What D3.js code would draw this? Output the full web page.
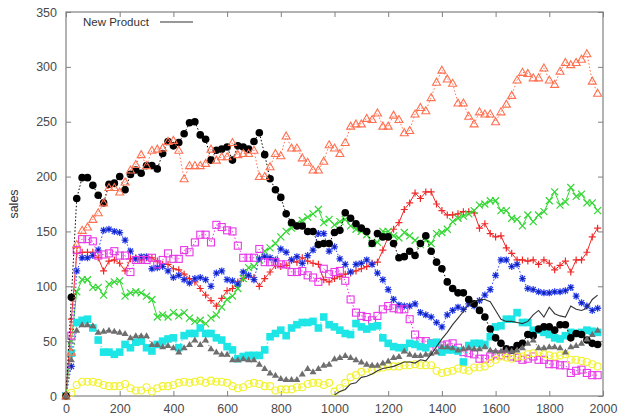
<!DOCTYPE html>
<html><head><meta charset="utf-8">
<script src="https://cdn.jsdelivr.net/npm/d3@7/dist/d3.min.js"></script>
<style>body{margin:0;background:#fff}svg{display:block}</style>
</head><body><svg id="c" width="627" height="420"></svg>
<script>
// x positions (sales sampled every 20 days)
const steps = d3.range(0, 2000, 20);
const xTicks = [0,200,400,600,800,1000,1200,1400,1600,1800,2000];
const yTicks = [0,50,100,150,200,250,300,350];

const redPlus = [0,70,130,131,131,131,126,114,123,124,121,114,125,126,124,126,126,123,120,120,116,115,111,107,104,98,92,87,82,89,96,98,104,107,109,108,100,107,113,119,118,119,124,122,126,123,121,120,106,104,107,109,111,112,114,116,118,121,122,133,145,152,158,170,176,185,180,186,186,175,169,165,165,166,168,168,167,153,157,148,145,146,135,130,124,124,123,124,120,124,121,115,119,123,113,124,124,131,145,153];
const greenX = [0,50,95,106,106,99,99,92,102,104,105,91,94,95,94,91,88,72,74,72,76,73,76,71,68,69,66,71,74,81,88,91,98,107,117,118,124,132,135,139,145,150,153,157,160,163,166,170,158,161,156,159,161,155,152,150,147,139,140,150,150,146,144,149,146,142,138,142,139,148,149,152,159,162,164,166,169,174,175,178,178,169,169,162,161,155,165,159,165,168,178,186,174,177,190,182,184,176,176,169];
const blueStar = [0,27,114,126,126,128,133,151,152,150,149,142,132,125,127,127,116,117,118,114,108,110,106,103,107,108,106,100,112,114,106,105,102,113,110,106,125,127,126,124,134,131,124,127,121,128,133,148,148,132,136,125,120,113,120,121,124,120,112,106,97,88,83,82,82,84,76,74,72,67,63,74,78,81,79,84,82,87,92,97,110,124,124,118,120,107,98,97,95,94,94,95,95,96,99,91,85,82,78,80];
const magentaSq = [0,55,133,143,143,141,128,129,130,132,128,128,113,124,124,124,126,120,124,130,125,125,133,131,140,147,147,140,156,154,151,150,137,126,126,126,134,122,122,122,120,120,113,113,114,110,108,104,116,111,113,114,105,88,76,73,72,69,73,79,82,80,79,79,70,56,50,50,48,45,46,47,48,44,40,39,38,34,34,36,38,37,39,36,35,33,34,36,33,33,29,29,28,28,21,23,24,21,19,19];
const cyanSq = [0,39,67,69,70,62,51,40,40,38,40,47,44,49,50,44,41,47,50,52,53,44,55,57,57,62,57,57,53,51,45,42,34,36,37,37,37,42,54,57,60,55,62,65,67,67,68,62,72,65,63,60,57,56,66,63,61,63,64,53,48,45,44,44,48,47,45,44,48,49,40,42,42,41,31,46,48,48,47,54,63,64,70,70,76,67,67,60,60,58,56,53,52,55,58,57,58,60,59,58];
const yellowCirc = [0,3,10,13,13,13,12,10,9,9,9,11,7,5,5,8,4,7,9,9,10,12,13,12,13,14,12,14,13,13,12,9,7,8,11,12,11,9,9,5,6,6,6,8,8,11,12,12,10,12,4,7,12,17,19,22,25,23,25,26,27,27,27,28,28,29,28,28,28,23,21,22,23,25,24,23,26,26,27,30,33,36,35,34,36,36,38,39,40,38,37,36,37,38,33,33,32,31,29,27];
const blackDot = [0,90,180,199,199,192,183,176,193,194,200,188,202,206,203,210,210,207,221,232,228,231,239,249,250,238,234,215,224,225,227,215,228,227,225,232,240,220,198,188,181,166,158,155,155,150,150,138,139,139,149,151,167,162,157,153,150,139,148,145,145,139,126,127,132,128,139,146,132,122,116,104,98,94,94,88,84,78,72,61,53,48,43,42,46,48,56,55,61,63,63,60,65,65,53,57,56,51,48,47];
const salmonTri = [0,40,138,151,154,161,167,176,190,190,186,195,206,211,220,210,224,225,226,232,233,224,198,210,210,210,212,225,215,218,218,231,220,221,221,224,200,200,209,221,219,237,226,226,217,213,206,206,214,229,226,221,231,246,248,248,253,252,258,246,246,256,252,240,242,257,263,260,272,286,297,289,285,267,267,255,248,259,257,257,250,259,266,274,288,295,294,290,290,299,288,284,296,304,302,304,307,312,287,276];
const grayTri = [0,33,60,65,65,64,58,59,60,59,58,57,53,55,55,55,47,47,45,46,44,40,44,47,51,47,51,43,40,38,38,33,33,34,33,33,29,25,21,19,16,15,15,15,20,25,22,25,28,29,34,35,37,35,33,31,29,28,28,30,32,35,36,41,38,37,37,38,39,40,45,45,44,42,43,44,43,43,45,42,41,41,42,41,42,44,48,51,44,44,45,45,44,40,45,46,48,52,56,60];
// New Product: starts at day 1000
const newSteps = d3.range(1000, 2000, 20);
const newProduct = [1,4,6,11,12,17,18,20,23,25,26,27,29,31,31,30,33,32,38,45,52,58,65,71,77,83,86,88,88,86,78,70,68,68,67,66,68,74,78,72,81,75,73,72,82,79,78,80,88,92];

const W = 627, H = 420;
const m = {l:66, r:603, t:12, b:396};
const svg = d3.select('#c');
const x = d3.scaleLinear().domain([0,2000]).range([m.l, m.r]);
const y = d3.scaleLinear().domain([0,350]).range([m.b, m.t]);

const font = "'Liberation Sans', Arial, sans-serif";
const axisCol = '#808080';

// axes with mirrored ticks
const ax = svg.append('g');
function styleAxis(g){ g.select('.domain').remove(); g.selectAll('line').attr('stroke', axisCol); g.selectAll('text').attr('fill','#4a4a4a').style('font-family',font).style('font-size','12.5px'); }
ax.append('g').attr('transform',`translate(0,${m.b})`).call(d3.axisBottom(x).tickValues(xTicks).tickFormat(d3.format('d')).tickSizeInner(-5).tickSizeOuter(0).tickPadding(8)).call(styleAxis);
ax.append('g').attr('transform',`translate(0,${m.t})`).call(d3.axisTop(x).tickValues(xTicks).tickFormat('').tickSizeInner(-5).tickSizeOuter(0)).call(styleAxis);
ax.append('g').attr('transform',`translate(${m.l},0)`).call(d3.axisLeft(y).tickValues(yTicks).tickFormat(d3.format('d')).tickSizeInner(-5).tickSizeOuter(0).tickPadding(9)).call(styleAxis);
ax.append('g').attr('transform',`translate(${m.r},0)`).call(d3.axisRight(y).tickValues(yTicks).tickFormat('').tickSizeInner(-5).tickSizeOuter(0)).call(styleAxis);
svg.append('rect').attr('x',m.l).attr('y',m.t).attr('width',m.r-m.l).attr('height',m.b-m.t).attr('fill','none').attr('stroke',axisCol).attr('stroke-width',1.2);

svg.append('text').attr('transform',`translate(18,${(m.t+m.b)/2}) rotate(-90)`).attr('text-anchor','middle')
  .attr('fill','#333').style('font-family',font).style('font-size','12.5px').text('sales');

const line = d3.line().x(d=>x(d[0])).y(d=>y(d[1]));
const plot = svg.append('g');

function marker(g, type, color, px, py){
  const s = 3.5;
  if(type==='plus'){ g.append('path').attr('d',`M${px-s},${py}H${px+s}M${px},${py-s}V${py+s}`).attr('stroke',color).attr('stroke-width',1.2); }
  else if(type==='x'){ g.append('path').attr('d',`M${px-s},${py-s}L${px+s},${py+s}M${px-s},${py+s}L${px+s},${py-s}`).attr('stroke',color).attr('stroke-width',1.2); }
  else if(type==='star'){ g.append('path').attr('d',`M${px-s},${py}H${px+s}M${px},${py-s}V${py+s}M${px-s*0.75},${py-s*0.75}L${px+s*0.75},${py+s*0.75}M${px-s*0.75},${py+s*0.75}L${px+s*0.75},${py-s*0.75}`).attr('stroke',color).attr('stroke-width',1.3);
    g.append('circle').attr('cx',px).attr('cy',py).attr('r',1.3).attr('fill','#1020a0'); }
  else if(type==='osq'){ g.append('rect').attr('x',px-3.5).attr('y',py-3.5).attr('width',7).attr('height',7).attr('fill','none').attr('stroke',color).attr('stroke-width',1.1); }
  else if(type==='fsq'){ g.append('rect').attr('x',px-3.8).attr('y',py-3.8).attr('width',7.6).attr('height',7.6).attr('fill',color); }
  else if(type==='ocirc'){ g.append('circle').attr('cx',px).attr('cy',py).attr('r',3.5).attr('fill','none').attr('stroke',color).attr('stroke-width',1.1); }
  else if(type==='fcirc'){ g.append('circle').attr('cx',px).attr('cy',py).attr('r',3.8).attr('fill',color); }
  else if(type==='otri'){ g.append('path').attr('d',`M${px},${py-4}L${px+4},${py+3}L${px-4},${py+3}Z`).attr('fill','none').attr('stroke',color).attr('stroke-width',1.1); }
  else if(type==='ftri'){ g.append('path').attr('d',`M${px},${py-3.5}L${px+3.5},${py+2.5}L${px-3.5},${py+2.5}Z`).attr('fill',color); }
}

const series = [
  {v: redPlus, c:'#f02828', t:'plus', dash:null, w:1},
  {v: greenX, c:'#33d633', t:'x', dash:null, w:1},
  {v: blueStar, c:'#2b40f0', t:'star', dash:'1.5,2', w:1},
  {v: magentaSq, c:'#e838e8', t:'osq', dash:'1.5,2', w:1},
  {v: cyanSq, c:'#1ee6e6', t:'fsq', dash:'1.5,2', w:1},
  {v: yellowCirc, c:'#f2f230', t:'ocirc', dash:'1.5,2', w:1},
  {v: blackDot, c:'#000000', t:'fcirc', dash:'1.5,2', w:1},
  {v: salmonTri, c:'#ff7050', t:'otri', dash:'1.5,2', w:1},
  {v: grayTri, c:'#6e6e6e', t:'ftri', dash:'1.5,2', w:1},
];
series.forEach(s=>{
  const pts = steps.map((d,i)=>[d, s.v[i]]);
  const g = plot.append('g');
  g.append('path').attr('d', line(pts)).attr('fill','none').attr('stroke', s.c).attr('stroke-width', s.w).attr('stroke-dasharray', s.dash);
  pts.forEach(p=>marker(g, s.t, s.c, x(p[0]), y(p[1])));
});
plot.append('path').attr('d', line(newSteps.map((d,i)=>[d,newProduct[i]]))).attr('fill','none').attr('stroke','#333').attr('stroke-width',1.1);

// legend
svg.append('text').attr('x',83).attr('y',26).attr('fill','#333').style('font-family',font).style('font-size','11.5px').text('New Product');
svg.append('line').attr('x1',160).attr('x2',193).attr('y1',22).attr('y2',22).attr('stroke','#333').attr('stroke-width',1.1);
</script></body></html>
